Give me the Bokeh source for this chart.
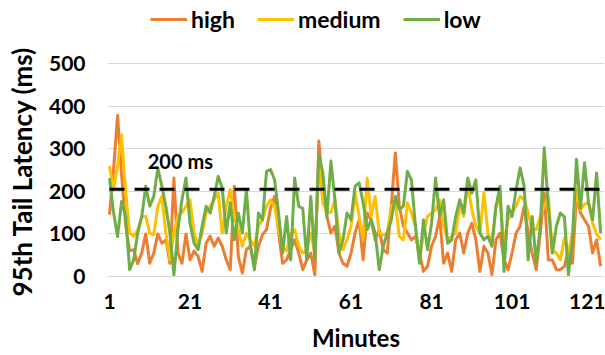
from bokeh.plotting import figure
from bokeh.models import Legend, LegendItem, FixedTicker, Range1d, Title
from bokeh.core.properties import value
from bokeh.embed import file_html
from bokeh.resources import INLINE

high = [145, 250, 378, 240, 120, 60, 63, 30, 55, 100,
        31, 55, 100, 78, 86, 31, 231, 55, 31, 100,
        39, 60, 47, 12, 78, 95, 71, 90, 71, 39,
        16, 212, 47, 8, 63, 71, 24, 71, 98, 110,
        160, 188, 102, 31, 39, 63, 86, 55, 16, 39,
        55, 4, 318, 204, 141, 102, 118, 55, 31, 24,
        55, 102, 133, 39, 149, 133, 86, 110, 63, 55,
        165, 290, 165, 118, 102, 86, 94, 55, 12, 24,
        71, 94, 141, 31, 55, 12, 86, 102, 55, 102,
        125, 86, 12, 71, 55, 4, 86, 102, 39, 16,
        55, 102, 118, 165, 102, 55, 16, 102, 196, 39,
        39, 16, 16, 24, 63, 31, 188, 149, 133, 118,
        55, 86, 24]
medium = [259, 204, 260, 333, 200, 102, 94, 110, 141, 141,
          102, 98, 165, 188, 102, 39, 102, 141, 150, 165,
          180, 102, 71, 100, 149, 165, 180, 196, 102, 165,
          204, 141, 110, 71, 102, 86, 71, 118, 133, 165,
          180, 165, 110, 70, 60, 100, 110, 71, 55, 63,
          102, 55, 267, 173, 150, 150, 180, 102, 63, 86,
          118, 196, 141, 86, 231, 141, 188, 102, 98, 102,
          165, 173, 94, 86, 173, 149, 118, 39, 102, 141,
          149, 157, 180, 118, 86, 94, 102, 165, 141, 220,
          157, 118, 102, 196, 102, 78, 165, 180, 78, 133,
          149, 165, 188, 180, 149, 110, 110, 141, 165, 188,
          63, 55, 39, 90, 55, 102, 204, 157, 170, 173,
          125, 100, 86]
low = [231, 150, 94, 176, 141, 16, 39, 102, 140, 212,
       165, 188, 255, 212, 165, 102, 4, 110, 180, 231,
       125, 78, 63, 118, 165, 149, 188, 235, 208, 102,
       173, 86, 149, 102, 204, 71, 16, 149, 133, 247,
       251, 227, 149, 55, 141, 39, 231, 165, 160, 39,
       188, 39, 286, 243, 141, 271, 180, 55, 86, 149,
       133, 212, 220, 173, 110, 133, 102, 16, 71, 102,
       133, 188, 157, 165, 247, 227, 118, 31, 133, 63,
       125, 231, 141, 180, 78, 86, 141, 180, 149, 231,
       196, 227, 102, 86, 94, 71, 165, 212, 12, 165,
       141, 204, 255, 212, 39, 141, 31, 118, 302, 165,
       55, 118, 149, 140, 4, 86, 275, 160, 267, 173,
       133, 243, 102]
threshold_ms = 205
threshold_label = "200 ms"
x_ticks = [1, 21, 41, 61, 81, 101, 121]
y_ticks = [0, 100, 200, 300, 400, 500]

minutes = list(range(1, len(high) + 1))
FONT = "Lato"

# frame extends above the 500 gridline so the legend can sit inside it
p = figure(width=605, height=355, output_backend="svg", toolbar_location=None,
           x_range=Range1d(0.5, 123.96), y_range=Range1d(0, 647.9),
           min_border_left=104, min_border_right=1, min_border_top=0, min_border_bottom=79)
p.outline_line_color = None
p.background_fill_color = "white"
p.border_fill_color = "white"

r_high = p.line(list(range(1, len(high) + 1)), high, line_color="#ED7D31", line_width=3, line_join="round")
r_med = p.line(list(range(1, len(medium) + 1)), medium, line_color="#FFC000", line_width=3, line_join="round")
r_low = p.line(list(range(1, len(low) + 1)), low, line_color="#70AD47", line_width=3, line_join="round")
p.line([minutes[0], minutes[-1]], [threshold_ms, threshold_ms], line_color="black",
       line_width=3, line_dash="15 10")

p.text(x=[10.5], y=[272], text=[threshold_label], text_font=value(FONT), text_font_style="bold",
       text_font_size="20px", text_baseline="middle", text_align="left", text_color="black")

p.xaxis.ticker = FixedTicker(ticks=x_ticks)
p.yaxis.ticker = FixedTicker(ticks=y_ticks)
p.xgrid.grid_line_color = None
p.ygrid.grid_line_color = "#d9d9d9"
p.ygrid.grid_line_width = 1

for ax in (p.xaxis[0], p.yaxis[0]):
    ax.major_tick_line_color = None
    ax.minor_tick_line_color = None
    ax.major_label_text_font = FONT
    ax.major_label_text_font_style = "bold"
    ax.major_label_text_font_size = "21px"
    ax.major_label_text_color = "black"
    ax.axis_label_text_font = FONT
    ax.axis_label_text_font_style = "bold"
    ax.axis_label_text_font_size = "24px"
    ax.axis_label_text_color = "black"
    ax.major_tick_out = 0
    ax.major_tick_in = 0

p.xaxis.axis_line_color = "#d9d9d9"
p.yaxis.axis_line_color = None
p.xaxis.axis_label = "Minutes"
p.xaxis.major_label_standoff = 17
p.xaxis.axis_label_standoff = 11
p.yaxis.major_label_standoff = 22

# y title placed like Excel: centred on the 0-500 plot area, not on the taller frame
p.add_layout(Title(text="95th Tail Latency (ms)", align="left", offset=-20,
                   vertical_align="top", standoff=11,
                   text_font=FONT, text_font_style="bold", text_font_size="26px",
                   text_color="black"), "left")

legend = Legend(items=[LegendItem(label="high", renderers=[r_high]),
                       LegendItem(label="medium", renderers=[r_med]),
                       LegendItem(label="low", renderers=[r_low])],
                orientation="horizontal", location=(43, 243),
                label_text_font=FONT, label_text_font_style="bold", label_text_font_size="23px",
                label_text_color="black",
                glyph_width=37, glyph_height=24, label_height=24, label_standoff=4, spacing=22,
                padding=0, margin=0, background_fill_alpha=0, border_line_alpha=0)
p.add_layout(legend)

open("out.html", "w").write(file_html(p, INLINE))
